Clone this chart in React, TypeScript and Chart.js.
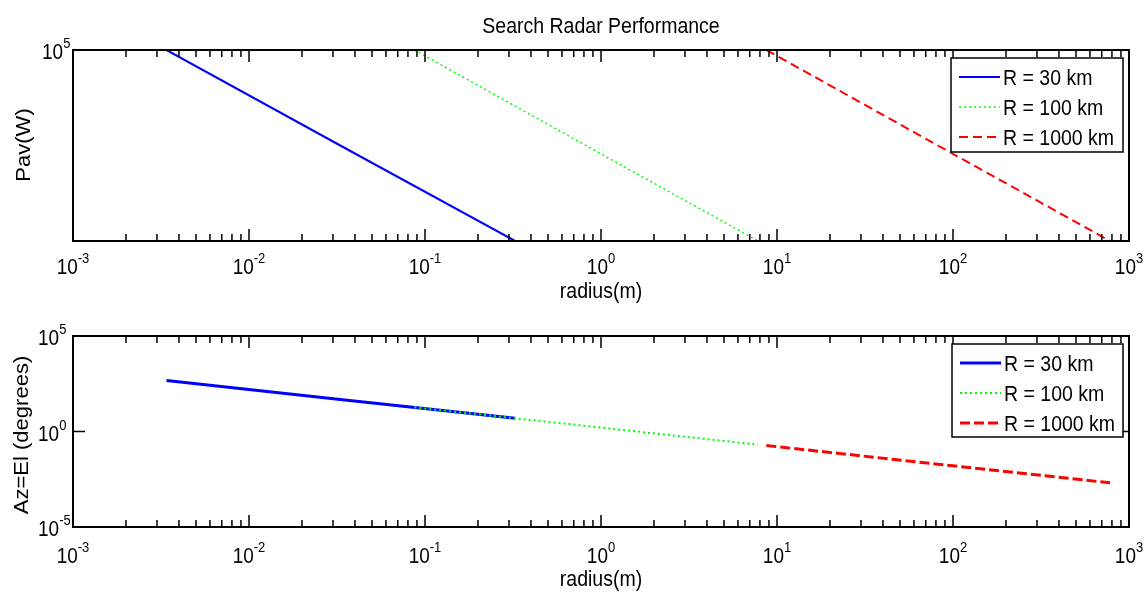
import React, { useEffect, useRef } from "react";
import { Chart, registerables } from "chart.js";

Chart.register(...registerables);

// ---------- data ----------
const chartTitle = "Search Radar Performance";
const seriesLabels = ["R = 30 km", "R = 100 km", "R = 1000 km"];
const seriesColors = ["#0000ff", "#00ff00", "#ff0000"];

const radius30km = [0.0034, 0.033, 0.325];
const radius100km = [0.087, 0.82, 7.8];
const radius1000km = [8.7, 82, 780];

const pav30km = [1e5, 1000, 10];
const pav100km = [1e5, 1000, 10];
const pav1000km = [1e5, 1000, 10];

const azEl30km = [470, 48, 4.9];
const azEl100km = [18.4, 1.95, 0.205];
const azEl1000km = [0.184, 0.0195, 0.00205];

const xTickExponents = [-3, -2, -1, 0, 1, 2, 3];
const xMinorMultipliers = [2, 3, 4, 5, 6, 7, 8, 9];
const topYTickExponents = [5];
const bottomYTickExponents = [-5, 0, 5];

const xAxisLabel = "radius(m)";
const topYAxisLabel = "Pav(W)";
const bottomYAxisLabel = "Az=El (degrees)";

// ---------- styling helpers ----------
const FONT_FAMILY = '"Liberation Sans", Arial, Helvetica, sans-serif';
const SY = 1.13; // vertical stretch seen in the reference text
const font = (s: number) => `${s}px ${FONT_FAMILY}`;

function drawText(
  ctx: CanvasRenderingContext2D,
  str: string,
  x: number,
  y: number,
  f: string,
  align: CanvasTextAlign = "left",
  baseline: CanvasTextBaseline = "alphabetic",
  rotate = false
) {
  ctx.save();
  ctx.translate(x, y);
  ctx.scale(1, SY);
  if (rotate) ctx.rotate(-Math.PI / 2);
  ctx.font = f;
  ctx.textAlign = align;
  ctx.textBaseline = baseline;
  ctx.fillText(str, 0, 0);
  ctx.restore();
}

function drawPow(
  ctx: CanvasRenderingContext2D,
  exp: number,
  x: number,
  baseY: number,
  expY: number,
  align: "center" | "left"
) {
  const bf = font(19);
  const ef = font(13);
  ctx.font = bf;
  const w1 = ctx.measureText("10").width;
  ctx.font = ef;
  const es = String(exp);
  const w2 = ctx.measureText(es).width;
  const start = align === "center" ? x - (w1 + w2) / 2 : x;
  drawText(ctx, "10", start, baseY, bf);
  drawText(ctx, es, start + w1, expY, ef);
}

type PanelCfg = {
  name: string;
  title?: string;
  titleY?: number;
  yExps: number[];
  yTickLeft: number;
  xBaseY: number;
  xExpY: number;
  xLabelY: number;
  yLabel: string;
  yLabelX: number;
  yLabelY: number;
  legend: { x: number; y: number; w: number; h: number };
  legendTextX: number;
};

function matlabAxes(cfg: PanelCfg) {
  return {
    id: "matlabAxes_" + cfg.name,
    afterDatasetsDraw(chart: any) {
      const ctx: CanvasRenderingContext2D = chart.ctx;
      const { left, right, top, bottom } = chart.chartArea;
      const xs = chart.scales.x;
      const ys = chart.scales.y;
      ctx.save();
      ctx.strokeStyle = "#000";
      ctx.fillStyle = "#000";

      // ticks
      ctx.lineWidth = 1.5;
      ctx.beginPath();
      xTickExponents.forEach((e) => {
        const px = xs.getPixelForValue(Math.pow(10, e));
        ctx.moveTo(px, bottom);
        ctx.lineTo(px, bottom - 12);
        ctx.moveTo(px, top);
        ctx.lineTo(px, top + 12);
      });
      xTickExponents.slice(0, -1).forEach((e) => {
        xMinorMultipliers.forEach((m) => {
          const px = xs.getPixelForValue(m * Math.pow(10, e));
          ctx.moveTo(px, bottom);
          ctx.lineTo(px, bottom - 7);
          ctx.moveTo(px, top);
          ctx.lineTo(px, top + 7);
        });
      });
      cfg.yExps.forEach((e) => {
        const py = ys.getPixelForValue(Math.pow(10, e));
        ctx.moveTo(left, py);
        ctx.lineTo(left + 12, py);
        ctx.moveTo(right, py);
        ctx.lineTo(right - 12, py);
      });
      ctx.stroke();

      // box
      ctx.lineWidth = 2;
      ctx.strokeRect(left, top, right - left, bottom - top);

      // x tick labels
      xTickExponents.forEach((e) => {
        const px = xs.getPixelForValue(Math.pow(10, e));
        drawPow(ctx, e, px, cfg.xBaseY, cfg.xExpY, "center");
      });
      // y tick labels
      cfg.yExps.forEach((e) => {
        const py = ys.getPixelForValue(Math.pow(10, e));
        drawPow(ctx, e, cfg.yTickLeft, py + 9, py - 2, "left");
      });

      // axis labels
      drawText(ctx, xAxisLabel, (left + right) / 2, cfg.xLabelY, font(19.5), "center");
      drawText(ctx, cfg.yLabel, cfg.yLabelX, cfg.yLabelY, font(19.5), "center", "middle", true);
      if (cfg.title) {
        drawText(ctx, cfg.title, (left + right) / 2, cfg.titleY as number, font(19.5), "center");
      }

      // legend
      const L = cfg.legend;
      ctx.fillStyle = "#fff";
      ctx.fillRect(L.x, L.y, L.w, L.h);
      ctx.lineWidth = 1.5;
      ctx.strokeStyle = "#000";
      ctx.strokeRect(L.x, L.y, L.w, L.h);
      chart.data.datasets.forEach((ds: any, i: number) => {
        const cy = L.y + 19 + 30 * i;
        ctx.save();
        ctx.strokeStyle = ds.borderColor;
        ctx.lineWidth = ds.borderWidth;
        ctx.setLineDash(ds.borderDash || []);
        ctx.beginPath();
        ctx.moveTo(L.x + 8, cy);
        ctx.lineTo(L.x + 49, cy);
        ctx.stroke();
        ctx.restore();
        ctx.fillStyle = "#000";
        drawText(ctx, ds.label, cfg.legendTextX, cy + 8, font(19.5), "left");
      });

      ctx.restore();
    },
  };
}

function makeDatasets(xs: number[][], ys: number[][], widths: number[], dashes: number[][]) {
  return seriesLabels.map((label, i) => ({
    label,
    data: xs[i].map((x, j) => ({ x, y: ys[i][j] })),
    borderColor: seriesColors[i],
    backgroundColor: seriesColors[i],
    borderWidth: widths[i],
    borderDash: dashes[i],
    pointRadius: 0,
    fill: false,
    tension: 0,
    order: 3 - i,
  }));
}

function makeChart(
  canvas: HTMLCanvasElement,
  datasets: any[],
  yMin: number,
  yMax: number,
  padding: { left: number; right: number; top: number; bottom: number },
  cfg: PanelCfg
) {
  return new Chart(canvas, {
    type: "line",
    data: { datasets },
    options: {
      responsive: false,
      animation: false,
      devicePixelRatio: 1,
      parsing: true,
      layout: { padding },
      scales: {
        x: { type: "logarithmic", min: 1e-3, max: 1e3, display: false },
        y: { type: "logarithmic", min: yMin, max: yMax, display: false },
      },
      plugins: {
        legend: { display: false },
        title: { display: false },
        tooltip: { enabled: false },
      },
      events: [],
    },
    plugins: [matlabAxes(cfg)],
  } as any);
}

export default function App() {
  const topRef = useRef<HTMLCanvasElement>(null);
  const botRef = useRef<HTMLCanvasElement>(null);

  useEffect(() => {
    const topChart = makeChart(
      topRef.current as HTMLCanvasElement,
      makeDatasets(
        [radius30km, radius100km, radius1000km],
        [pav30km, pav100km, pav1000km],
        [2, 1.5, 2],
        [[], [2, 3], [9, 5]]
      ),
      10,
      1e5,
      { left: 73, right: 17, top: 50, bottom: 320 - 241 },
      {
        name: "top",
        title: chartTitle,
        titleY: 33,
        yExps: topYTickExponents,
        yTickLeft: 42,
        xBaseY: 274,
        xExpY: 263,
        xLabelY: 298,
        yLabel: topYAxisLabel,
        yLabelX: 25,
        yLabelY: 145,
        legend: { x: 951, y: 58, w: 172, h: 94 },
        legendTextX: 1003,
      }
    );
    const botChart = makeChart(
      botRef.current as HTMLCanvasElement,
      makeDatasets(
        [radius30km, radius100km, radius1000km],
        [azEl30km, azEl100km, azEl1000km],
        [3, 2, 3],
        [[], [2, 3], [10, 4]]
      ),
      1e-5,
      1e5,
      { left: 73, right: 17, top: 36, bottom: 292 - 227 },
      {
        name: "bottom",
        yExps: bottomYTickExponents,
        yTickLeft: 38,
        xBaseY: 263,
        xExpY: 252,
        xLabelY: 286,
        yLabel: bottomYAxisLabel,
        yLabelX: 22.5,
        yLabelY: 135,
        legend: { x: 952, y: 44, w: 171, h: 93 },
        legendTextX: 1004,
      }
    );
    return () => {
      topChart.destroy();
      botChart.destroy();
    };
  }, []);

  return (
    <div
      style={{
        position: "absolute",
        left: 0,
        top: 0,
        width: 1146,
        height: 592,
        background: "#fff",
        overflow: "hidden",
      }}
    >
      <canvas
        ref={topRef}
        width={1146}
        height={320}
        style={{ position: "absolute", left: 0, top: 0, width: 1146, height: 320 }}
      />
      <canvas
        ref={botRef}
        width={1146}
        height={292}
        style={{ position: "absolute", left: 0, top: 300, width: 1146, height: 292 }}
      />
    </div>
  );
}
